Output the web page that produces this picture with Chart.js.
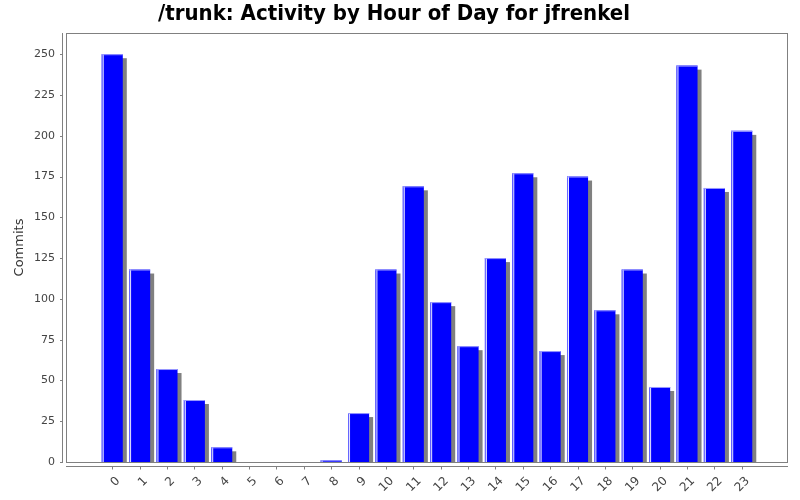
<!DOCTYPE html>
<html>
<head>
<meta charset="utf-8">
<script src="https://cdn.jsdelivr.net/npm/chart.js@4/dist/chart.umd.min.js"></script>
<style>
  html, body { margin: 0; padding: 0; background: #fff; }
  #wrap { width: 800px; height: 500px; }
</style>
</head>
<body>
<div id="wrap"><canvas id="c" width="800" height="500"></canvas></div>
<script>
const hours = ['0','1','2','3','4','5','6','7','8','9','10','11','12','13','14','15','16','17','18','19','20','21','22','23'];
const commits = [250, 118, 57, 38, 9, 0, 0, 0, 1, 30, 118, 169, 98, 71, 125, 177, 68, 175, 93, 118, 46, 243, 168, 203];
const yTicks = [0, 25, 50, 75, 100, 125, 150, 175, 200, 225, 250];

const axisGray = '#808080';

// JFreeChart-ish decorations: shadows behind bars, highlight on bars, frame and offset axes
const decor = {
  id: 'decor',
  beforeDatasetsDraw(chart) {
    const ctx = chart.ctx, a = chart.chartArea;
    ctx.save();
    ctx.beginPath();
    ctx.rect(a.left, a.top, a.right - a.left, a.bottom - a.top);
    ctx.clip();
    ctx.fillStyle = '#808080';
    chart.getDatasetMeta(0).data.forEach(b => {
      const h = b.base - b.y;
      if (h <= 0) return;
      ctx.fillRect(b.x - b.width / 2 + 4, b.y + 4, b.width, h);
    });
    ctx.restore();
  },
  afterDatasetsDraw(chart) {
    const ctx = chart.ctx;
    ctx.save();
    chart.getDatasetMeta(0).data.forEach(b => {
      const h = b.base - b.y;
      if (h <= 0) return;
      const l = b.x - b.width / 2;
      ctx.fillStyle = '#6a6aff';
      ctx.fillRect(l, b.y, 1, h);
      ctx.fillStyle = '#e8e8ff';
      ctx.fillRect(l + 1, b.y, 1, h);
      ctx.fillStyle = '#9a9aff';
      ctx.fillRect(l, b.y, b.width, 1);
    });
    ctx.restore();
  },
  afterDraw(chart) {
    const ctx = chart.ctx, a = chart.chartArea;
    const xs = chart.scales.x, ys = chart.scales.y;
    ctx.save();
    ctx.strokeStyle = axisGray;
    ctx.lineWidth = 1;
    ctx.strokeRect(a.left + 0.5, a.top + 0.5, a.right - a.left - 1, a.bottom - a.top);
    ctx.beginPath();
    // y axis line, offset 4px left
    ctx.moveTo(a.left - 3.5, a.top);
    ctx.lineTo(a.left - 3.5, a.bottom + 1);
    ys.ticks.forEach(t => {
      const py = Math.round(ys.getPixelForValue(t.value)) + 0.5;
      ctx.moveTo(a.left - 6, py);
      ctx.lineTo(a.left - 3.5, py);
    });
    // x axis line, offset 4px down
    ctx.moveTo(a.left, a.bottom + 4.5);
    ctx.lineTo(a.right, a.bottom + 4.5);
    xs.ticks.forEach(t => {
      const px = Math.round(xs.getPixelForValue(t.value)) + 0.5;
      ctx.moveTo(px, a.bottom + 4.5);
      ctx.lineTo(px, a.bottom + 7.5);
    });
    ctx.stroke();
    ctx.restore();
  }
};

new Chart(document.getElementById('c'), {
  type: 'bar',
  data: {
    datasets: [{
      label: 'Commits',
      data: commits.map((v, i) => ({ x: Number(hours[i]), y: v })),
      backgroundColor: '#0000ff',
      borderWidth: 0,
      categoryPercentage: 1,
      barPercentage: 0.77
    }]
  },
  options: {
    responsive: false,
    animation: false,
    layout: { padding: { left: 0, right: 12, top: 0, bottom: 0 } },
    plugins: {
      legend: { display: false },
      tooltip: { enabled: false },
      title: {
        display: true,
        text: '/trunk: Activity by Hour of Day for jfrenkel',
        color: '#000',
        font: { family: 'DejaVu Sans Condensed', size: 22, weight: 'bold', lineHeight: 1.2 },
        padding: { top: 1, bottom: 5.6 }
      }
    },
    scales: {
      x: {
        type: 'linear',
        offset: false,
        min: -1.69,
        max: 24.69,
        afterBuildTicks: s => { s.ticks = hours.map(h => ({ value: Number(h) })); },
        afterFit: s => { s.height = 38; },
        grid: { display: false, drawTicks: false },
        border: { display: false },
        ticks: {
          autoSkip: false,
          minRotation: 45,
          maxRotation: 45,
          padding: 12,
          labelOffset: 6,
          color: '#444',
          font: { family: 'DejaVu Sans', size: 12 },
          callback: v => hours[v]
        }
      },
      y: {
        min: 0,
        max: 263,
        afterBuildTicks: s => { s.ticks = yTicks.map(v => ({ value: v })); },
        afterFit: s => { s.width = 66; },
        grid: { display: false, drawTicks: false },
        border: { display: false },
        ticks: {
          padding: 11,
          color: '#444',
          font: { family: 'DejaVu Sans', size: 11 }
        },
        title: {
          display: true,
          text: 'Commits',
          color: '#333',
          font: { family: 'DejaVu Sans', size: 13 },
          padding: { top: 12, bottom: 0 }
        }
      }
    }
  },
  plugins: [decor]
});
</script>
</body>
</html>
